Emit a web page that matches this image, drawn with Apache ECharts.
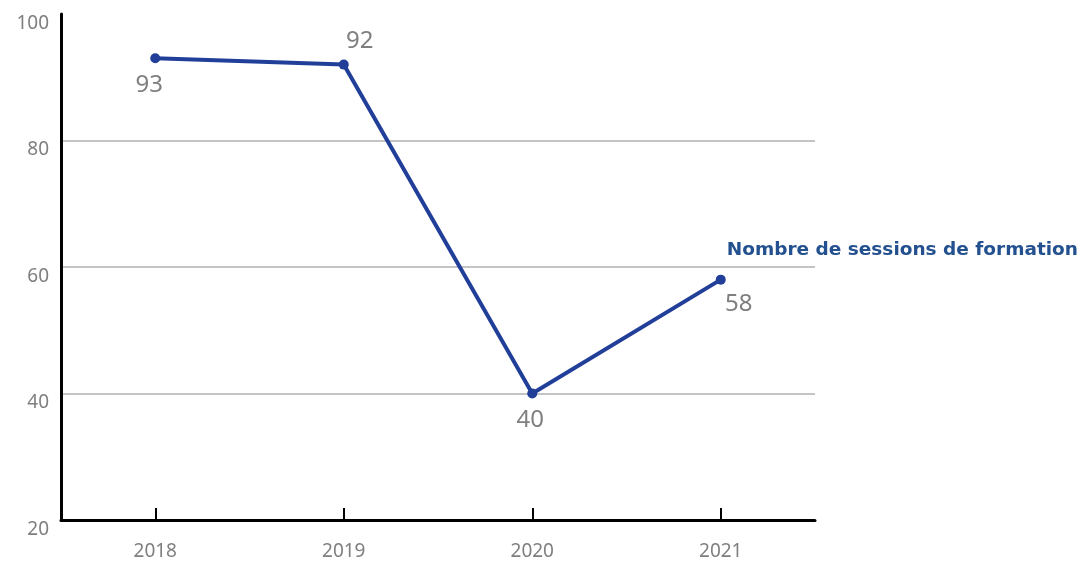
<!DOCTYPE html>
<html>
<head>
<meta charset="utf-8">
<script src="https://cdn.jsdelivr.net/npm/echarts@6/dist/echarts.min.js"></script>
<style>
  html, body { margin: 0; padding: 0; background: #fff; }
  #chart { width: 1084px; height: 569px; }
</style>
</head>
<body>
<div id="chart"></div>
<script>
// data
const years = ['2018', '2019', '2020', '2021']
const sessions = [93, 92, 40, 58]
const labelPos = ['bottom', 'top', 'bottom', 'bottom']
const labelOffset = [[-6, 2], [16, 2], [-2, 2], [18, 0]]
const seriesName = 'Nombre de sessions de formation'

const chart = echarts.init(document.getElementById('chart'))

// per-point labels, placement differs for each point
const points = sessions.map((v, i) => ({
  value: v,
  label: { position: labelPos[i], offset: labelOffset[i] }
}))

chart.setOption({
  animation: false,
  grid: { left: 61, right: 269, top: 14, bottom: 49 },
  xAxis: {
    type: 'category',
    data: years,
    boundaryGap: true,
    axisLine: { lineStyle: { color: '#000', width: 3 } },
    axisTick: { show: true, alignWithLabel: true, inside: true, length: 12, lineStyle: { color: '#000', width: 2 } },
    axisLabel: { color: '#7f7f7f', fontSize: 19, fontFamily: 'Noto Sans', margin: 22 }
  },
  yAxis: {
    type: 'value',
    min: 20,
    max: 100,
    interval: 20,
    axisLine: { show: true, lineStyle: { color: '#000', width: 3 } },
    axisTick: { show: false },
    axisLabel: { color: '#7f7f7f', fontSize: 19, fontFamily: 'Noto Sans', margin: 12, verticalAlign: 'top' },
    splitLine: {
      show: true,
      lineStyle: { color: ['transparent', '#c4c4c4', '#c4c4c4', '#c4c4c4', 'transparent'], width: 2 }
    }
  },
  series: [
    {
      name: seriesName,
      type: 'line',
      data: points,
      symbol: 'circle',
      symbolSize: 10,
      lineStyle: { color: '#213f99', width: 4 },
      itemStyle: { color: '#213f99' },
      label: {
        show: true,
        color: '#7f7f7f',
        fontSize: 24,
        fontFamily: 'Noto Sans',
        distance: 8
      },
      endLabel: {
        show: true,
        formatter: '{a}',
        color: '#23508f',
        fontSize: 18.5,
        fontWeight: 'bold',
        fontFamily: 'DejaVu Sans',
        distance: 6,
        offset: [0, -29]
      }
    }
  ]
})
</script>
</body>
</html>
